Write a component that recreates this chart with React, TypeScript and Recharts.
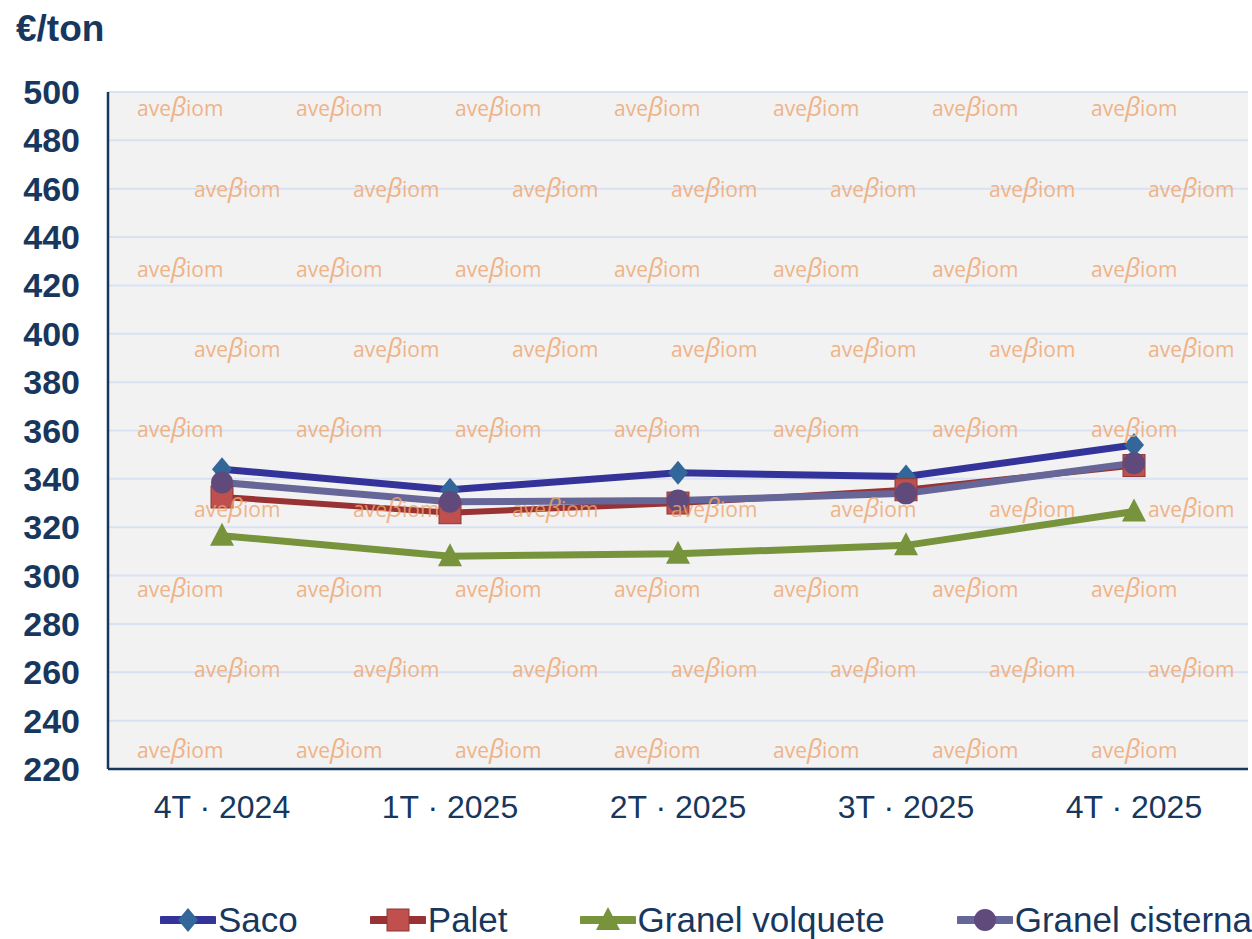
import React from "react";
import {
  CartesianGrid,
  Line,
  LineChart,
  XAxis,
  YAxis,
} from "recharts";

const quarters = ["4T · 2024", "1T · 2025", "2T · 2025", "3T · 2025", "4T · 2025"];
const saco = [344, 335.5, 342.5, 341, 354];
const palet = [332.5, 326, 330, 335.5, 345.5];
const granelVolquete = [316.5, 308, 309, 312.5, 326.5];
const granelCisterna = [338.5, 330.5, 331, 334, 346.5];
const yTicks = [220, 240, 260, 280, 300, 320, 340, 360, 380, 400, 420, 440, 460, 480, 500];

const NAVY = "#17375E";

type Shape = "diamond" | "square" | "triangle" | "circle";

const series: { key: string; name: string; line: string; marker: string; shape: Shape; width: number }[] = [
  { key: "saco", name: "Saco", line: "#333399", marker: "#336699", shape: "diamond", width: 7 },
  { key: "palet", name: "Palet", line: "#993333", marker: "#C0504D", shape: "square", width: 6 },
  { key: "volquete", name: "Granel volquete", line: "#77933C", marker: "#77933C", shape: "triangle", width: 7 },
  { key: "cisterna", name: "Granel cisterna", line: "#666699", marker: "#604A7B", shape: "circle", width: 7 },
];

const data = quarters.map((q, i) => ({
  q,
  saco: saco[i],
  palet: palet[i],
  volquete: granelVolquete[i],
  cisterna: granelCisterna[i],
}));

function Marker({ cx, cy, shape, fill }: { cx: number; cy: number; shape: Shape; fill: string }) {
  if (cx == null || cy == null) return null;
  if (shape === "diamond")
    return <path d={`M${cx},${cy - 12} L${cx + 10},${cy} L${cx},${cy + 12} L${cx - 10},${cy} Z`} fill={fill} />;
  if (shape === "square")
    return <rect x={cx - 11} y={cy - 11} width={22} height={22} fill={fill} stroke="#8c3836" strokeWidth={1} />;
  if (shape === "triangle")
    return <path d={`M${cx},${cy - 13} L${cx + 12},${cy + 10} L${cx - 12},${cy + 10} Z`} fill={fill} />;
  return <circle cx={cx} cy={cy} r={11} fill={fill} />;
}

function LegendIcon({ s }: { s: (typeof series)[number] }) {
  return (
    <svg width={56} height={34} style={{ display: "block" }}>
      <line x1={2} y1={17} x2={54} y2={17} stroke={s.line} strokeWidth={8} strokeLinecap="round" />
      <Marker cx={28} cy={17} shape={s.shape} fill={s.marker} />
    </svg>
  );
}

function Watermarks() {
  const rows = [106, 187, 267, 347, 427, 507, 587, 667, 748];
  const items: React.ReactNode[] = [];
  rows.forEach((y, r) => {
    const start = r % 2 === 0 ? 137 : 194;
    for (let k = 0; k < 7; k++) {
      const x = start + k * 159;
      items.push(
        <div
          key={`${r}-${k}`}
          style={{
            position: "absolute",
            left: x,
            top: y - 14,
            fontFamily: "Open Sans, sans-serif",
            fontSize: 21,
            color: "#EFA46D",
            opacity: 0.8,
            whiteSpace: "nowrap",
            lineHeight: "28px",
          }}
        >
          ave<span style={{ fontStyle: "italic", fontSize: 26 }}>β</span>iom
        </div>
      );
    }
  });
  return <>{items}</>;
}

export default function App() {
  return (
    <div style={{ position: "absolute", left: 0, top: 0, width: 1252, height: 939, background: "#fff", overflow: "hidden" }}>
      <div
        style={{
          position: "absolute",
          left: 16,
          top: 8,
          fontFamily: "Liberation Sans, Arial, sans-serif",
          fontWeight: "bold",
          fontSize: 37,
          color: NAVY,
        }}
      >
        €/ton
      </div>
      <LineChart width={1252} height={939} data={data} margin={{ top: 92, right: 4, left: 0, bottom: 90 }}>
        <CartesianGrid vertical={false} stroke="#D9E1F2" strokeWidth={2} fill="#F2F2F2" fillOpacity={1} />
        <XAxis
          dataKey="q"
          scale="band"
          height={80}
          tickLine={false}
          axisLine={{ stroke: NAVY, strokeWidth: 2.5 }}
          tickMargin={20}
          tick={{ fill: NAVY, fontSize: 32, fontFamily: "Liberation Sans, Arial, sans-serif" }}
        />
        <YAxis
          domain={[220, 500]}
          ticks={yTicks}
          interval={0}
          width={108}
          tickLine={false}
          tickSize={0}
          tickMargin={28}
          axisLine={{ stroke: NAVY, strokeWidth: 2.5 }}
          tick={{ fill: NAVY, fontSize: 34, fontWeight: "bold", fontFamily: "Liberation Sans, Arial, sans-serif" }}
        />
        {series.map((s) => (
          <Line
            key={s.key}
            dataKey={s.key}
            name={s.name}
            stroke={s.line}
            strokeWidth={s.width}
            isAnimationActive={false}
            dot={(p: any) => <Marker key={`${s.key}-${p.index}`} cx={p.cx} cy={p.cy} shape={s.shape} fill={s.marker} />}
            activeDot={false}
          />
        ))}
      </LineChart>
      <Watermarks />
      <div
        style={{
          position: "absolute",
          left: 160,
          top: 900,
          display: "flex",
          alignItems: "center",
          gap: 72,
          fontFamily: "Liberation Sans, Arial, sans-serif",
          fontSize: 35,
          color: NAVY,
          whiteSpace: "nowrap",
        }}
      >
        {series.map((s) => (
          <div key={s.key} style={{ display: "flex", alignItems: "center" }}>
            <LegendIcon s={s} />
            <span style={{ marginLeft: 2 }}>{s.name}</span>
          </div>
        ))}
      </div>
    </div>
  );
}
